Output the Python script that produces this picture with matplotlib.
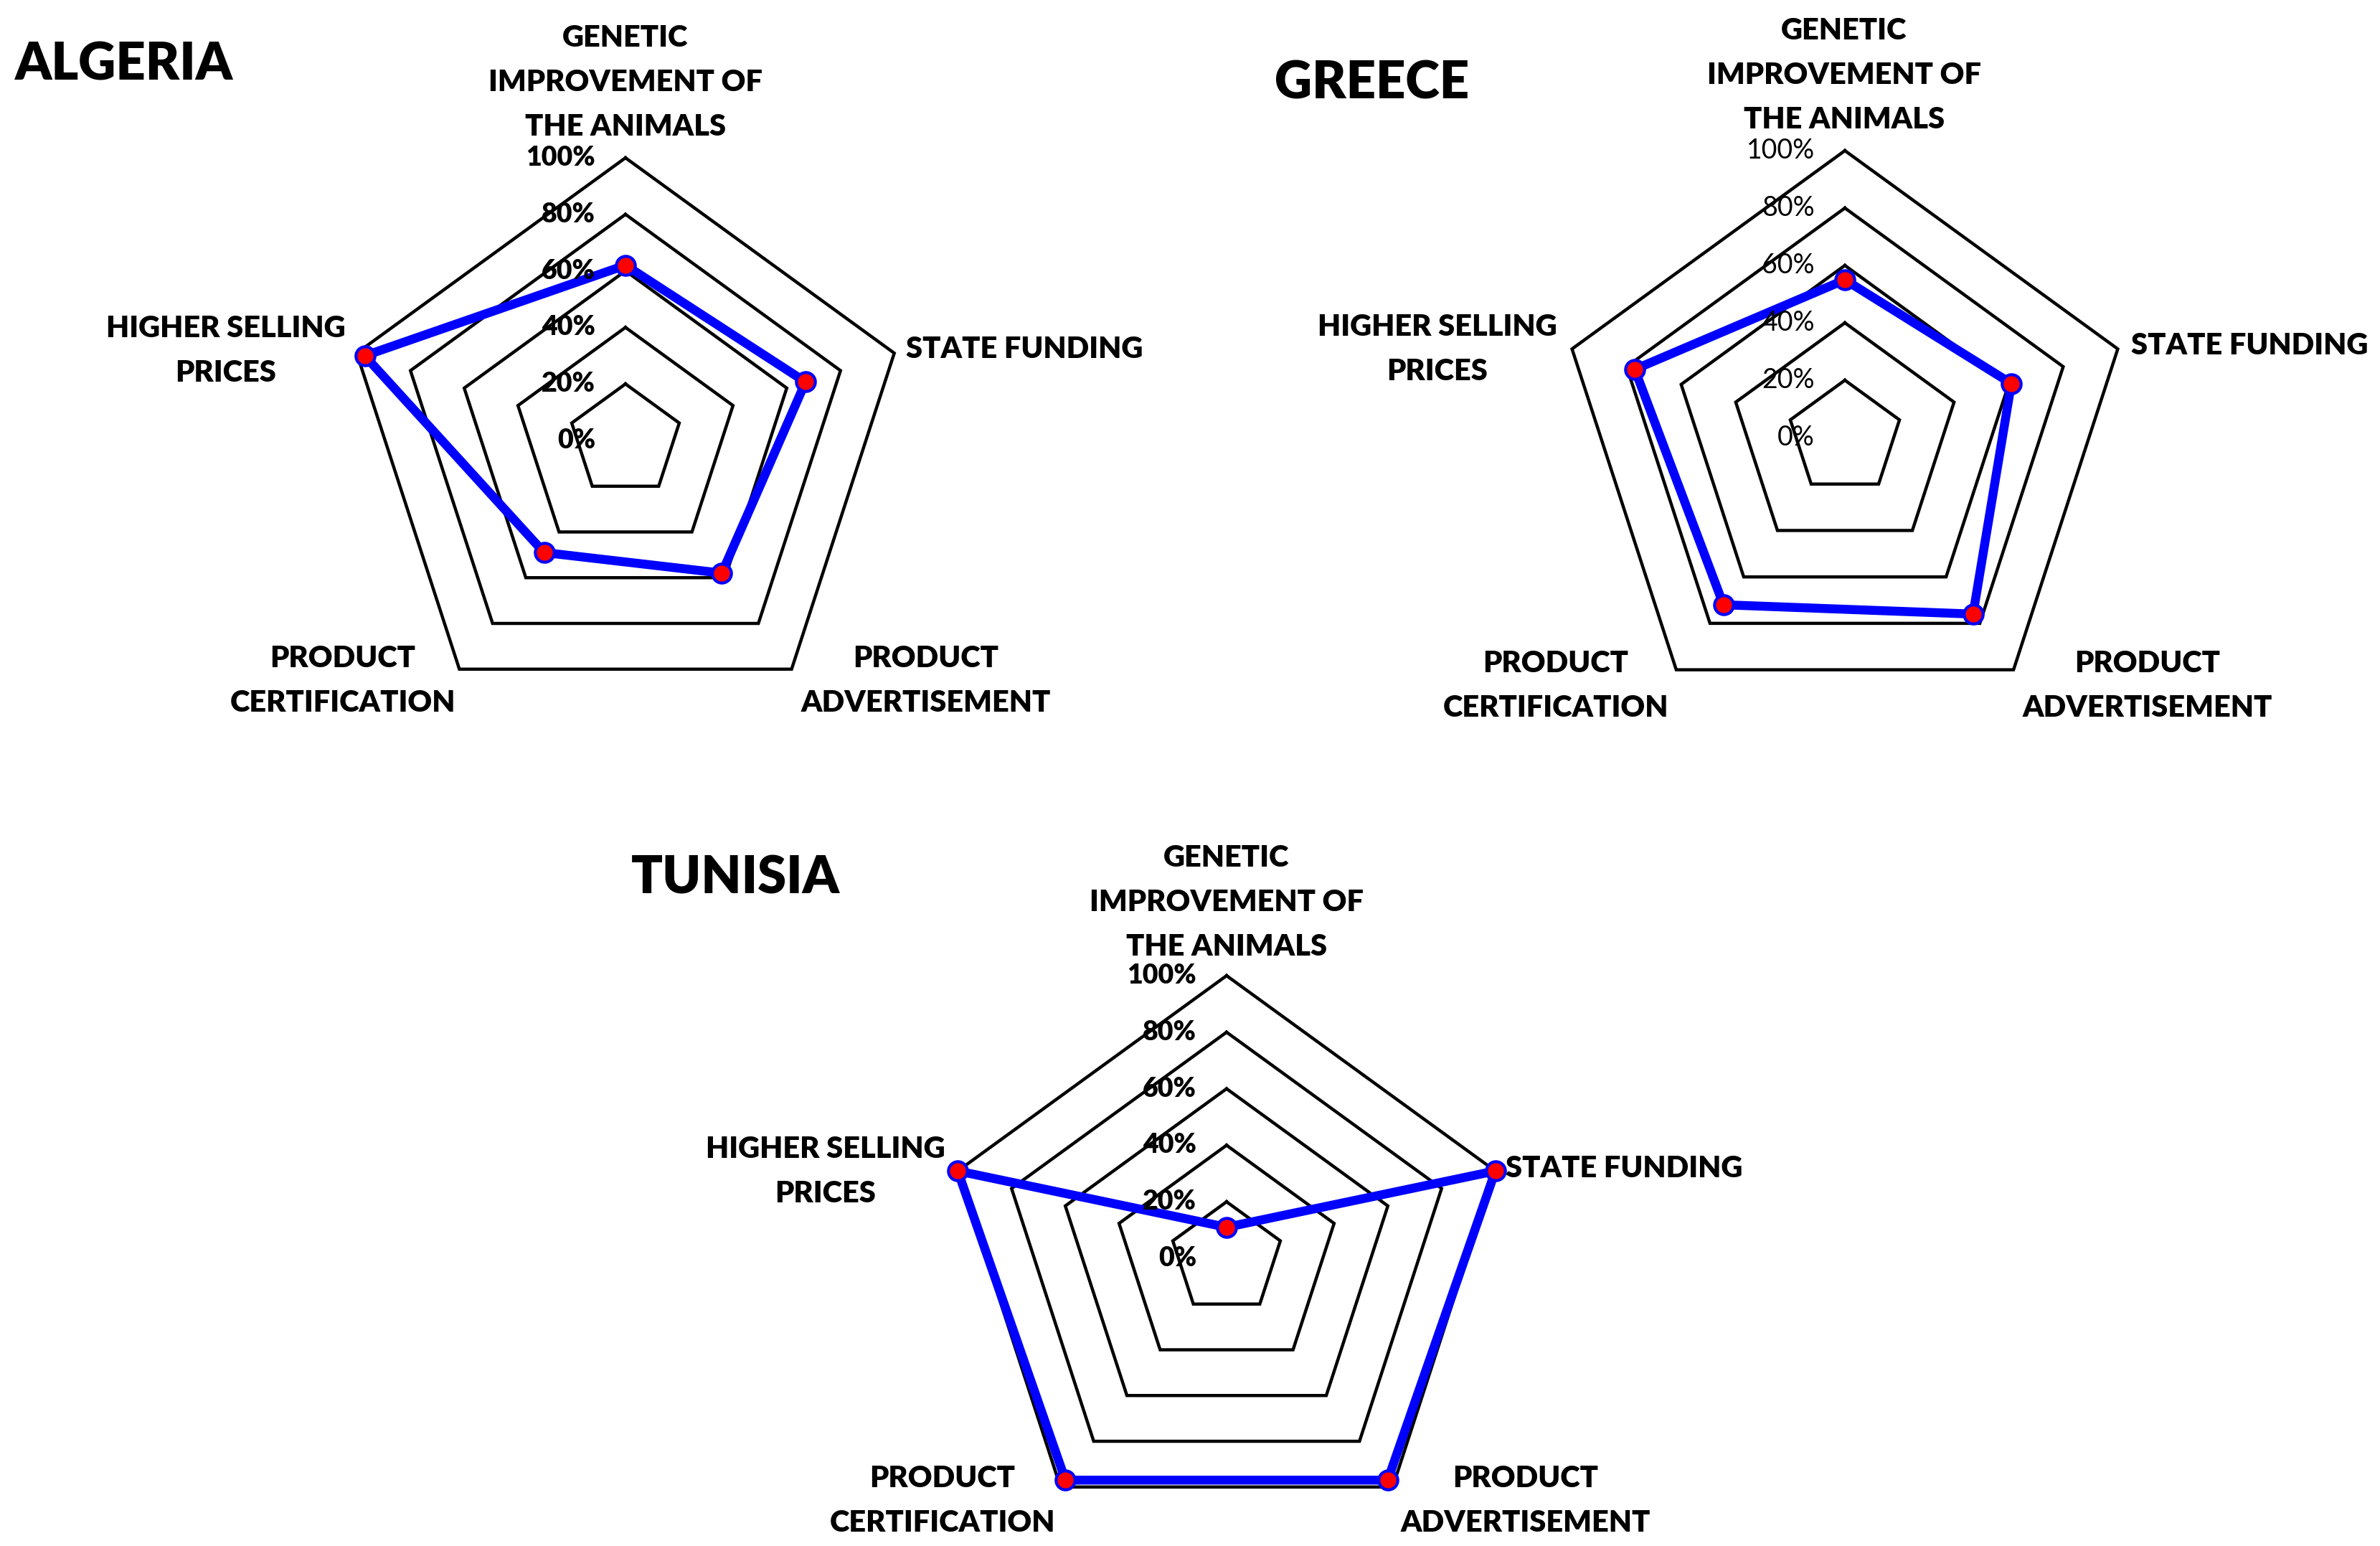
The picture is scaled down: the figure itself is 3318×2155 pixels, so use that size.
import numpy as np
import matplotlib
matplotlib.use("Agg")
import matplotlib.pyplot as plt

categories = ["GENETIC\nIMPROVEMENT OF\nTHE ANIMALS", "STATE FUNDING",
              "PRODUCT\nADVERTISEMENT", "PRODUCT\nCERTIFICATION",
              "HIGHER SELLING\nPRICES"]
tick_values = [0, 20, 40, 60, 80, 100]
tick_labels = ["0%", "20%", "40%", "60%", "80%", "100%"]

countries = ["ALGERIA", "GREECE", "TUNISIA"]
algeria = [62, 67, 58, 49, 97]
greece = [55, 61, 76, 72, 77]
tunisia = [11, 100, 97, 97, 100]

W, H = 3318, 2155
fig = plt.figure(figsize=(W / 100, H / 100), dpi=100)
FONT = ["Lato", "DejaVu Sans"]

# layout in pixels (from top-left): center x, center y, radius
layouts = {
    "ALGERIA": dict(c=(872, 614), r=394, title=(21, 91), tick_bold=True,
                    labels=[(872, 115, "center"), (1263, 487, "left"),
                            (1291, 949, "center"), (478, 949, "center"),
                            (315, 489, "center")]),
    "GREECE": dict(c=(2572, 610), r=400, title=(1777, 116), tick_bold=False,
                   labels=[(2571, 105, "center"), (2971, 482, "left"),
                           (2994, 956, "center"), (2169, 956, "center"),
                           (2004, 487, "center")]),
    "TUNISIA": dict(c=(1710, 1754), r=394, title=(880, 1225), tick_bold=True,
                    labels=[(1710, 1258, "center"), (2099, 1629, "left"),
                            (2127, 2092, "center"), (1314, 2092, "center"),
                            (1151, 1633, "center")]),
}
data = {"ALGERIA": algeria, "GREECE": greece, "TUNISIA": tunisia}

n = len(categories)
theta = np.linspace(0, 2 * np.pi, n, endpoint=False)
theta_closed = np.append(theta, theta[0])

for name in countries:
    L = layouts[name]
    cx, cy = L["c"]
    R = L["r"]
    ax = fig.add_axes([(cx - R) / W, (H - cy - R) / H, 2 * R / W, 2 * R / H],
                      projection="polar")
    ax.set_theta_offset(np.pi / 2)
    ax.set_theta_direction(-1)
    ax.set_ylim(0, 100)
    ax.grid(False)
    ax.set_xticks([])
    ax.set_yticks([])
    ax.spines["polar"].set_visible(False)
    ax.patch.set_alpha(0)

    for t in tick_values[1:]:
        ax.plot(theta_closed, [t] * (n + 1), color="black", lw=3.2,
                solid_joinstyle="miter", zorder=1, clip_on=False)

    vals = data[name]
    vc = np.append(vals, vals[0])
    ax.plot(theta_closed, vc, color="#0000FF", lw=9, zorder=3,
            solid_joinstyle="round", clip_on=False)
    ax.plot(theta, vals, linestyle="none", marker="o", markersize=19,
            markerfacecolor="#FF0000", markeredgecolor="#0000FF",
            markeredgewidth=3, zorder=4, clip_on=False)

    # radial tick labels
    for t, lab in zip(tick_values, tick_labels):
        ty = cy - R * t / 100
        fig.text((cx - 42) / W, 1 - ty / H, lab, ha="right", va="center",
                 fontsize=27, family=FONT,
                 fontweight="heavy" if L["tick_bold"] else "normal")

    # category labels
    for (lx, ly, ha), lab in zip(L["labels"], categories):
        fig.text(lx / W, 1 - ly / H, lab, ha=ha, va="center",
                 fontsize=30, family=FONT, fontweight="heavy",
                 multialignment="center", linespacing=1.78)

    tx, ty = L["title"]
    fig.text(tx / W, 1 - ty / H, name, ha="left", va="center",
             fontsize=52, family=FONT, fontweight="heavy")

fig.savefig("out.png", dpi=100, facecolor="white")
